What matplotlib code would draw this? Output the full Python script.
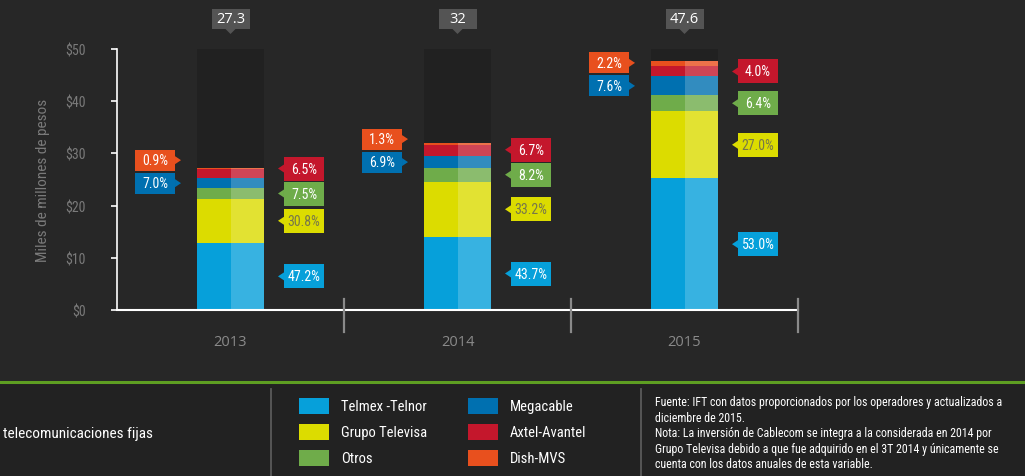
import matplotlib
matplotlib.use("Agg")
import matplotlib.pyplot as plt
from matplotlib import font_manager
from matplotlib.patches import Rectangle, Polygon
from matplotlib.transforms import IdentityTransform

# data
years = ["2013", "2014", "2015"]
totals = [27.3, 32, 47.6]
companies = ["Telmex -Telnor", "Grupo Televisa", "Otros", "Megacable", "Axtel-Avantel", "Dish-MVS"]
telmex = [47.2, 43.7, 53.0]
televisa = [30.8, 33.2, 27.0]
otros = [7.5, 8.2, 6.4]
megacable = [7.0, 6.9, 7.6]
axtel = [6.5, 6.7, 4.0]
dish = [0.9, 1.3, 2.2]
shares = [telmex, televisa, otros, megacable, axtel, dish]
yticks = [0, 10, 20, 30, 40, 50]

colors = ["#06a0da", "#dcdc00", "#6fac4a", "#0070b0", "#c4172c", "#e8501e"]
label_side = ["right", "right", "right", "left", "right", "left"]
text_colors = ["white", "#77774a", "white", "white", "white", "white"]

names = {f.name for f in font_manager.fontManager.ttflist}
narrow = next((f for f in ["Roboto Condensed", "Liberation Sans Narrow", "Open Sans Condensed", "Roboto"] if f in names), "DejaVu Sans")
plain = "Open Sans" if "Open Sans" in names else "DejaVu Sans"

W, H = 1025, 477
fig = plt.figure(figsize=(W / 100, H / 100), dpi=100)
fig.patch.set_facecolor("#272727")
ax = fig.add_axes([117 / W, 1 - 311 / H, (798 - 117) / W, (311 - 50) / H])
ax.set_facecolor("none")
ax.set_xlim(-0.5, 2.5)
ax.set_ylim(0, 50)

bw = 0.295
x = range(len(years))
ax.bar(x, [yticks[-1]] * len(years), width=bw, color="#212121", zorder=1)

bottoms = [0.0] * len(years)
segs = []
for i, s in enumerate(shares):
    vals = [t * p / 100 for t, p in zip(totals, s)]
    ax.bar(x, vals, bottom=bottoms, width=bw, color=colors[i], zorder=2, linewidth=0)
    ax.bar([xi + bw / 4 for xi in x], vals, bottom=bottoms, width=bw / 2,
           color="white", alpha=0.2, zorder=3, linewidth=0)
    segs.append([(b + v / 2) for b, v in zip(bottoms, vals)])
    bottoms = [b + v for b, v in zip(bottoms, vals)]

# axes styling
for sp in ["top", "right"]:
    ax.spines[sp].set_visible(False)
ax.spines["left"].set_color("white")
ax.spines["bottom"].set_color("white")
ax.spines["left"].set_linewidth(1.2)
ax.spines["bottom"].set_linewidth(1.5)
ax.set_yticks(yticks)
ax.set_yticklabels(["$%d" % v for v in yticks], fontsize=10, color="#7a7a7a", family=narrow)
ax.tick_params(axis="y", colors="white", length=4.5, width=1.2, labelcolor="#7a7a7a", pad=18)
ax.set_xticks(list(x))
ax.set_xticklabels(years, fontsize=10.5, color="#8a8a8a", family=plain)
ax.tick_params(axis="x", length=0, pad=17)
ax.set_ylabel("Miles de millones de pesos", fontsize=11, color="#7a7a7a", family=narrow, labelpad=11)
for sx in [0.5, 1.5, 2.5]:
    ax.plot([sx, sx], [-4.2, 2.1], color="#8a8a8a", lw=1.6, clip_on=False, zorder=4)

# label boxes in pixel space
ident = IdentityTransform()
fig.canvas.draw()


def px(xd, yd):
    return ax.transData.transform((xd, yd))


def box(cx, cy, w, h, fc, txt, tc, arrow, size=10, fam=None):
    fig.add_artist(Rectangle((cx - w / 2, cy - h / 2), w, h, fc=fc, ec="none",
                             transform=ident, zorder=10))
    if arrow == "left":
        tri = [(cx - w / 2, cy + 4), (cx - w / 2 - 6, cy), (cx - w / 2, cy - 4)]
    elif arrow == "right":
        tri = [(cx + w / 2, cy + 4), (cx + w / 2 + 6, cy), (cx + w / 2, cy - 4)]
    else:
        tri = [(cx - 5, cy - h / 2), (cx, cy - h / 2 - 5), (cx + 5, cy - h / 2)]
    fig.add_artist(Polygon(tri, closed=True, fc=fc, ec="none", transform=ident, zorder=10))
    fig.text(cx, cy, txt, transform=ident, ha="center", va="center", color=tc,
             fontsize=size, family=fam or narrow, zorder=11)


for j in range(len(years)):
    left_edge = px(j - bw / 2, 0)[0]
    right_edge = px(j + bw / 2, 0)[0]
    for side, gap, bh in [("right", 25, 24), ("left", 23, 21)]:
        last = None
        for i in range(len(companies)):
            if label_side[i] != side:
                continue
            cy = px(j, segs[i][j])[1]
            if last is not None and cy < last + gap:
                cy = last + gap
            last = cy
            if side == "right":
                cx = right_edge + 20 + 20
                box(cx, cy, 40, bh, colors[i], "%.1f%%" % shares[i][j], text_colors[i], "left")
            else:
                cx = left_edge - 22 - 20
                box(cx, cy, 40, bh, colors[i], "%.1f%%" % shares[i][j], text_colors[i], "right")
    tx, ty = px(j, yticks[-1])
    box(tx, ty + 30, 38, 20, "#545454", "%g" % totals[j], "white", "down", size=10.5, fam=plain)

# bottom band
fig.add_artist(Rectangle((0, 0), 1, 1 - 383 / H, fc="#222222", ec="none", transform=fig.transFigure, zorder=0))
fig.add_artist(plt.Line2D([0, 1], [1 - 383 / H] * 2, color="#5e9e22", lw=2.2, transform=fig.transFigure))
for sx in [271, 641]:
    fig.add_artist(plt.Line2D([sx / W] * 2, [0, 1 - 390 / H], color="#5a5a5a", lw=1.3, transform=fig.transFigure))

fig.text(3 / W, 1 - 434 / H, "telecomunicaciones fijas", color="white", fontsize=11,
         family=narrow, va="center", ha="left")

rows = [407, 433, 459]
cols = [299, 468]
for i, name in enumerate(companies):
    cxp = cols[i // 3]
    cyp = rows[i % 3]
    fig.add_artist(Rectangle((cxp / W, 1 - (cyp + 8) / H), 30 / W, 16 / H, fc=colors[i], ec="none",
                             transform=fig.transFigure))
    fig.text((cxp + 42) / W, 1 - cyp / H, name, color="white", fontsize=10.5, family=narrow,
             va="center", ha="left")

note = ("Fuente: IFT con datos proporcionados por los operadores y actualizados a\n"
        "diciembre de 2015.\n"
        "Nota: La inversión de Cablecom se integra a la considerada en 2014 por\n"
        "Grupo Televisa debido a que fue adquirido en el 3T 2014 y únicamente se\n"
        "cuenta con los datos anuales de esta variable.")
fig.text(655 / W, 1 - 396 / H, note, color="white", fontsize=8.6, family=narrow,
         va="top", ha="left", linespacing=1.25)

fig.savefig("out.png", dpi=100, facecolor=fig.get_facecolor())
